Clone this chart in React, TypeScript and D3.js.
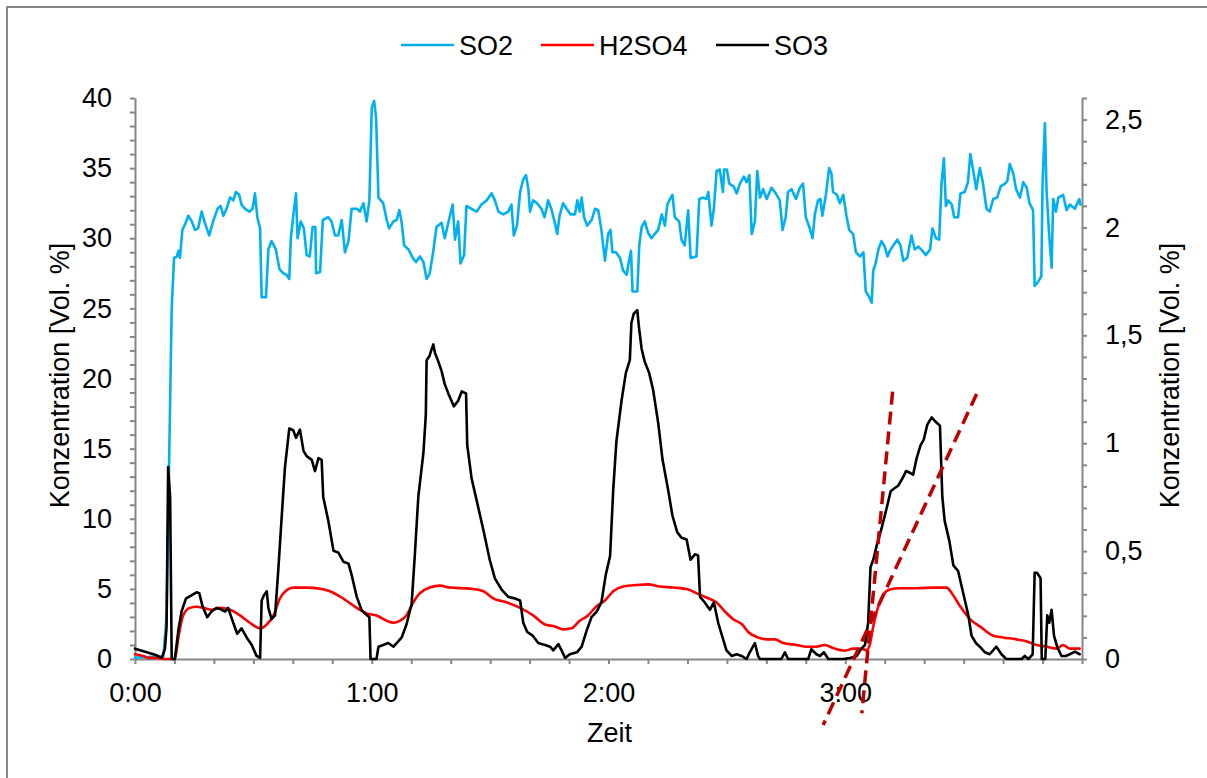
import { useEffect, useRef } from "react";
import * as d3 from "d3";

// Zeit in Minuten, SO2 in Vol.% (linke Achse)
const so2: [number, number][] = [
  [0, 0.1], [7.2, 0.2], [8.0, 3], [8.7, 15], [9.3, 25], [9.9, 28.6], [10.6, 28.7], [11.0, 29.1], [11.4, 28.6],
  [12.0, 30.6], [12.7, 31.0], [13.5, 31.6], [14.4, 31.2], [15.2, 30.6], [16.0, 30.7], [16.9, 31.9], [17.7, 31.1],
  [18.8, 30.2], [19.8, 31.2], [20.9, 32.1], [21.7, 32.3], [22.4, 31.6], [23.2, 32.1], [24.1, 32.9], [24.9, 32.7],
  [25.6, 33.3], [26.4, 33.1], [27.0, 32.4], [27.9, 32.1], [29.0, 31.9], [29.8, 32.1], [30.4, 33.2], [31.0, 31.5],
  [31.7, 30.7], [32.1, 25.8], [33.2, 25.8], [33.8, 29.2], [34.6, 29.8], [35.7, 29.2], [36.6, 27.8], [37.6, 27.5],
  [38.4, 27.4], [39.1, 27.1], [39.5, 30.0], [40.1, 31.6], [40.8, 33.2], [41.2, 30.0], [42.0, 31.2], [42.8, 30.7],
  [43.5, 28.8], [44.3, 28.7], [45.0, 30.8], [45.7, 30.8], [45.9, 27.5], [46.9, 27.6], [47.6, 31.3], [49.0, 31.5],
  [49.8, 31.2], [50.7, 30.2], [51.5, 30.2], [52.4, 31.3], [53.2, 29.0], [54.1, 29.8], [54.9, 32.1], [56.2, 32.1],
  [57.0, 31.9], [57.9, 32.5], [58.7, 31.2], [59.4, 32.7], [60.0, 39.3], [60.6, 39.8], [61.1, 38.6], [61.7, 32.9],
  [62.9, 32.5], [63.8, 31.3], [64.4, 30.7], [65.5, 31.2], [66.3, 31.3], [67.0, 32.0], [67.6, 31.1], [68.2, 29.5],
  [69.3, 29.2], [70.4, 28.6], [71.2, 28.3], [72.2, 28.7], [73.1, 28.3], [73.9, 27.1], [74.7, 27.5], [75.6, 29.1],
  [76.4, 30.8], [77.7, 31.1], [78.5, 30.0], [79.4, 31.1], [80.5, 32.4], [81.1, 29.9], [81.9, 31.2], [82.5, 28.2],
  [83.4, 28.8], [84.0, 32.3], [85.3, 32.1], [86.6, 31.9], [87.8, 32.4], [89.1, 32.7], [90.4, 33.2], [91.2, 32.7],
  [92.1, 31.9], [93.3, 31.7], [94.6, 31.9], [95.4, 32.4], [96.0, 30.2], [96.8, 30.9], [97.6, 33.3], [98.4, 34.2],
  [99.1, 34.5], [99.7, 33.5], [100.1, 31.9], [100.9, 32.7], [101.9, 32.5], [103.0, 32.1], [103.8, 31.5], [104.7, 32.7],
  [105.5, 32.1], [106.4, 31.1], [107.0, 30.3], [107.6, 31.6], [108.5, 32.5], [109.4, 32.1], [110.4, 31.7], [111.5, 31.7],
  [112.1, 32.7], [112.7, 31.9], [113.2, 32.9], [113.8, 31.5], [114.6, 30.9], [115.7, 31.3], [116.6, 32.1], [117.4, 32.0],
  [118.2, 30.6], [119.1, 28.4], [119.9, 30.3], [120.5, 30.6], [121.0, 29.0], [121.9, 29.0], [122.9, 28.6], [123.7, 27.7],
  [124.6, 27.4], [125.2, 28.4], [125.7, 29.1], [126.1, 26.2], [127.3, 26.2], [127.8, 29.5], [128.4, 30.8], [129.2, 31.2],
  [130.0, 30.4], [130.9, 30.0], [131.7, 30.3], [132.6, 30.6], [133.5, 31.7], [134.3, 30.9], [134.9, 32.4], [135.6, 32.8],
  [136.2, 33.1], [136.8, 31.5], [137.9, 31.2], [138.5, 29.9], [139.3, 29.5], [140.2, 32.0], [140.8, 28.6], [142.3, 28.7],
  [143.0, 32.8], [144.0, 32.9], [144.8, 32.8], [145.3, 33.3], [146.1, 30.9], [146.7, 32.1], [147.4, 34.8], [148.2, 34.9],
  [149.0, 33.3], [149.3, 34.9], [150.0, 34.9], [150.6, 33.9], [151.7, 33.7], [152.5, 33.2], [153.3, 33.9], [154.3, 34.4],
  [155.0, 34.0], [155.7, 34.5], [156.3, 30.3], [157.1, 31.2], [157.7, 34.8], [158.4, 32.9], [159.2, 33.5], [160.1, 32.8],
  [161.3, 33.6], [162.4, 33.2], [163.4, 32.7], [164.1, 30.6], [164.9, 31.5], [165.5, 33.3], [166.4, 33.5], [167.5, 32.8],
  [168.5, 33.6], [169.3, 33.9], [170.0, 31.5], [170.9, 30.8], [171.7, 30.0], [172.3, 31.7], [173.1, 32.7], [173.7, 32.8],
  [174.2, 31.6], [175.1, 33.1], [175.9, 35.0], [176.5, 34.6], [176.9, 33.3], [177.9, 33.1], [178.6, 32.5], [179.5, 33.1],
  [180.3, 31.6], [181.0, 30.6], [182.0, 30.3], [182.7, 29.0], [183.7, 28.7], [184.6, 29.0], [185.2, 26.2], [185.9, 25.9],
  [186.7, 25.4], [187.1, 27.7], [187.7, 28.2], [188.4, 29.2], [189.2, 29.8], [190.0, 29.4], [190.7, 28.7], [191.3, 29.1],
  [192.2, 29.5], [193.2, 29.9], [194.0, 29.5], [194.7, 28.4], [195.7, 28.6], [196.8, 30.2], [197.6, 29.2], [198.5, 29.4],
  [199.6, 29.1], [200.4, 28.8], [201.5, 29.2], [202.1, 30.7], [203.0, 30.0], [203.8, 29.9], [204.4, 33.9], [205.0, 35.7],
  [205.5, 32.3], [206.1, 32.7], [207.0, 32.4], [207.6, 31.5], [208.6, 31.5], [209.2, 33.2], [210.3, 33.3], [211.1, 34.0],
  [211.7, 36.0], [212.4, 34.9], [213.2, 33.5], [214.1, 35.0], [214.8, 34.1], [215.8, 32.1], [216.6, 31.9], [217.5, 32.8],
  [218.5, 32.9], [219.4, 33.7], [220.5, 33.9], [221.1, 34.1], [221.7, 35.3], [222.6, 34.6], [223.3, 33.5], [224.3, 32.9],
  [225.1, 34.0], [226.0, 33.6], [226.7, 32.5], [227.6, 32.0], [228.0, 26.6], [228.9, 26.9], [229.7, 27.3], [230.0, 33.9],
  [230.6, 38.2], [231.0, 33.5], [231.6, 30.6], [232.3, 27.9], [232.7, 32.8], [233.4, 31.9], [234.0, 32.9], [235.2, 33.1],
  [236.1, 32.0], [236.9, 32.4], [238.2, 32.1], [239.3, 32.8], [239.6, 32.4],
];

// H2SO4 in Vol.% (rechte Achse)
const h2so4: [number, number][] = [
  [0, 0.022], [2.1, 0.014], [3.4, 0.005], [5.5, 0.005], [8.0, 0], [10.1, 0], [11.0, 0.1], [12.2, 0.202], [13.9, 0.237],
  [15.6, 0.242], [17.3, 0.237], [19.4, 0.228], [21.5, 0.237], [24.1, 0.228], [26.6, 0.202], [29.1, 0.168], [31.7, 0.142],
  [33.4, 0.16], [35.1, 0.202], [36.7, 0.28], [38.4, 0.319], [40.1, 0.331], [43.5, 0.331], [46.9, 0.326], [49.4, 0.314],
  [52.8, 0.28], [56.2, 0.237], [58.7, 0.211], [61.2, 0.202], [63.8, 0.177], [65.5, 0.168], [67.1, 0.177], [68.8, 0.202],
  [70.5, 0.262], [72.2, 0.305], [74.7, 0.331], [77.3, 0.34], [79.8, 0.331], [84.9, 0.326], [88.3, 0.314], [90.9, 0.28],
  [94.3, 0.262], [97.6, 0.237], [100.9, 0.202], [103.9, 0.16], [106.4, 0.151], [108.5, 0.137], [110.6, 0.142],
  [112.7, 0.177], [114.8, 0.202], [117.0, 0.245], [119.1, 0.271], [121.2, 0.314], [123.7, 0.336], [127.1, 0.343],
  [130.0, 0.346], [133.0, 0.336], [136.4, 0.331], [140.2, 0.322], [142.7, 0.302], [144.8, 0.285], [147.4, 0.262],
  [149.5, 0.22], [151.8, 0.182], [153.9, 0.16], [155.4, 0.125], [157.9, 0.1], [160.1, 0.091], [162.2, 0.091],
  [164.3, 0.074], [167.7, 0.065], [170.2, 0.057], [172.7, 0.057], [174.8, 0.065], [176.9, 0.051], [179.9, 0.039],
  [182.0, 0.048], [184.1, 0.048], [185.4, 0.04], [186.2, 0.065], [187.1, 0.151], [188.4, 0.245], [189.6, 0.297],
  [191.3, 0.322], [193.8, 0.328], [198.1, 0.328], [202.3, 0.331], [205.7, 0.331], [207.0, 0.305], [209.1, 0.245],
  [211.6, 0.185], [214.1, 0.151], [217.5, 0.108], [220.0, 0.1], [223.4, 0.091], [225.9, 0.082], [228.5, 0.065],
  [231.0, 0.057], [233.6, 0.048], [235.2, 0.065], [236.9, 0.048], [239.4, 0.048],
];

// SO3 in Vol.% (rechte Achse)
const so3: [number, number][] = [
  [0, 0.048], [3.0, 0.031], [5.5, 0.017], [6.8, 0.005], [7.6, 0.048], [8.0, 0.15], [8.4, 0.89], [8.9, 0.75], [9.3, 0],
  [10.1, 0], [11.0, 0.134], [11.8, 0.22], [12.9, 0.28], [14.4, 0.296], [15.6, 0.309], [16.3, 0.305], [17.1, 0.245],
  [18.3, 0.194], [19.4, 0.22], [20.7, 0.237], [22.0, 0.228], [22.8, 0.22], [23.6, 0.237], [24.9, 0.168], [25.9, 0.117],
  [27.0, 0.142], [28.3, 0.1], [29.6, 0.065], [30.8, 0.014], [31.7, 0.005], [32.1, 0.271], [32.7, 0.296], [33.4, 0.314],
  [33.8, 0.237], [34.6, 0.185], [35.5, 0.202], [36.3, 0.408], [37.2, 0.665], [38.0, 0.888], [39.1, 1.068], [40.1, 1.06],
  [40.8, 1.025], [41.8, 1.063], [42.7, 0.965], [43.5, 0.94], [44.8, 0.923], [45.6, 0.871], [46.5, 0.931], [47.3, 0.923],
  [47.7, 0.751], [49.0, 0.64], [50.3, 0.502], [51.5, 0.494], [52.8, 0.451], [54.1, 0.442], [54.9, 0.39], [56.2, 0.288],
  [57.4, 0.228], [58.3, 0.211], [59.4, 0.194], [59.7, 0], [61.2, 0], [61.7, 0.057], [62.9, 0.065], [64.2, 0.074],
  [65.5, 0.057], [66.3, 0.074], [67.6, 0.1], [68.8, 0.16], [70.1, 0.254], [70.9, 0.477], [71.8, 0.751], [73.1, 0.957],
  [73.7, 1.13], [73.9, 1.385], [74.6, 1.403], [75.2, 1.437], [75.6, 1.458], [76.0, 1.42], [76.9, 1.377], [77.7, 1.334],
  [78.5, 1.274], [79.4, 1.231], [80.8, 1.171], [81.9, 1.197], [82.8, 1.24], [83.9, 1.231], [84.2, 0.991], [85.3, 0.837],
  [86.6, 0.734], [88.3, 0.597], [89.9, 0.46], [91.2, 0.374], [92.9, 0.322], [94.6, 0.288], [96.3, 0.28], [97.6, 0.271],
  [98.4, 0.168], [99.4, 0.125], [100.8, 0.108], [102.2, 0.074], [103.9, 0.065], [105.2, 0.057], [106.0, 0.04],
  [107.3, 0.069], [108.1, 0.04], [109.0, 0.005], [110.2, 0.022], [112.0, 0.031], [113.2, 0.057], [114.5, 0.134],
  [115.7, 0.194], [117.0, 0.22], [118.2, 0.262], [119.3, 0.39], [120.4, 0.477], [121.2, 0.785], [122.0, 1.008],
  [123.3, 1.197], [124.4, 1.326], [125.4, 1.385], [125.8, 1.557], [126.4, 1.6], [127.3, 1.617], [127.7, 1.54],
  [128.4, 1.437], [129.2, 1.377], [130.3, 1.326], [131.3, 1.248], [132.6, 1.094], [133.7, 0.923], [135.1, 0.785],
  [136.2, 0.665], [137.4, 0.588], [138.5, 0.562], [139.8, 0.554], [140.8, 0.46], [141.9, 0.485], [142.7, 0.48],
  [143.2, 0.288], [144.4, 0.262], [145.7, 0.228], [146.7, 0.262], [147.8, 0.168], [148.9, 0.1], [149.9, 0.04],
  [151.2, 0.014], [152.5, 0.022], [153.7, 0.014], [155.0, 0], [155.8, 0.031], [157.1, 0.074], [157.9, 0.014],
  [158.4, 0], [163.8, 0], [164.7, 0.031], [165.5, 0], [170.6, 0], [171.4, 0.045], [172.7, 0.022], [173.6, 0.014],
  [174.6, 0.031], [175.7, 0], [179.5, 0], [181.2, 0.005], [182.9, 0.014], [184.1, 0.048], [185.0, 0.065], [185.8, 0.168],
  [186.4, 0.425], [187.1, 0.46], [188.0, 0.528], [189.2, 0.605], [190.5, 0.7], [191.5, 0.777], [192.3, 0.789],
  [193.4, 0.803], [194.5, 0.837], [195.4, 0.871], [196.4, 0.863], [197.2, 0.854], [198.1, 0.931], [199.1, 0.991],
  [199.9, 1.017], [200.8, 1.086], [201.9, 1.12], [202.7, 1.103], [204.0, 1.081], [204.6, 0.751], [205.2, 0.64],
  [206.4, 0.545], [207.4, 0.434], [208.6, 0.408], [209.9, 0.305], [211.2, 0.202], [212.0, 0.108], [213.1, 0.074],
  [214.1, 0.057], [215.4, 0.031], [216.6, 0.022], [218.3, 0.057], [219.6, 0.022], [220.8, 0], [224.7, 0], [225.5, 0.014],
  [226.4, 0], [227.5, 0.022], [228.0, 0.4], [228.6, 0.4], [229.5, 0.374], [229.8, 0], [230.7, 0], [231.2, 0.202],
  [231.7, 0.168], [232.3, 0.228], [232.9, 0.108], [233.7, 0.057], [234.8, 0.014], [235.9, 0.014], [236.9, 0.022],
  [238.2, 0.034], [239.4, 0.022],
];

// gestrichelte Tangenten (Zeit, linke Achse), von oben nach unten
const tangents: [number, number, number, number][] = [
  [192.0, 19.06, 184.2, -3.87],
  [213.3, 18.9, 174.4, -4.7],
];

const seriesNames = ["SO2", "H2SO4", "SO3"];
const seriesColors = ["#00B0F0", "#FF0000", "#000000"];
const xLabelTicks = [0, 60, 120, 180];
const xTickLabels = ["0:00", "1:00", "2:00", "3:00"];
const leftMajor = [0, 5, 10, 15, 20, 25, 30, 35, 40];
const rightMajor = [0, 0.5, 1, 1.5, 2, 2.5];
const rightTickLabels = ["0", "0,5", "1", "1,5", "2", "2,5"];

const FONT = "'Liberation Sans', Arial, sans-serif";
const AXIS = "#868686";

export default function App() {
  const ref = useRef<SVGSVGElement>(null);

  useEffect(() => {
    if (!ref.current) return;
    const svg = d3.select(ref.current);
    svg.selectAll("*").remove();

    const W = 1207;
    const H = 778;
    const m = { top: 98, right: 125, bottom: 119, left: 135 };
    const w = W - m.left - m.right;
    const h = H - m.top - m.bottom;

    // Rahmen
    svg.append("rect")
      .attr("x", 7).attr("y", 7)
      .attr("width", W + 20).attr("height", H + 20)
      .attr("fill", "#fff")
      .attr("stroke", "#898989")
      .attr("stroke-width", 2);

    const g = svg.append("g").attr("transform", `translate(${m.left},${m.top})`);

    const x = d3.scaleLinear().domain([0, 240]).range([0, w]);
    const yL = d3.scaleLinear().domain([0, 40]).range([h, 0]);
    const yR = d3.scaleLinear().domain([0, 2.6]).range([h, 0]);

    const styleAxis = (sel: any) => {
      sel.selectAll("path, line").attr("stroke", AXIS).attr("stroke-width", 2);
      sel.selectAll("text")
        .attr("fill", "#000")
        .style("font-family", FONT)
        .style("font-size", "27px");
    };

    // X-Achse
    const xAxis = g.append("g")
      .attr("transform", `translate(0,${h})`)
      .call(
        d3.axisBottom(x)
          .tickValues(d3.range(0, 241, 10))
          .tickSize(5)
          .tickSizeOuter(0)
          .tickPadding(19)
          .tickFormat((d: any) => {
            const i = xLabelTicks.indexOf(+d);
            return i >= 0 ? xTickLabels[i] : "";
          })
      );
    styleAxis(xAxis);

    // linke Achse
    const leftAxis = g.append("g")
      .call(
        d3.axisLeft(yL)
          .tickValues(d3.range(0, 41, 1))
          .tickSize(5)
          .tickSizeOuter(0)
          .tickPadding(18)
          .tickFormat((d: any) => (leftMajor.includes(+d) ? String(d) : ""))
      );
    styleAxis(leftAxis);

    // rechte Achse
    const rightAxis = g.append("g")
      .attr("transform", `translate(${w},0)`)
      .call(
        d3.axisRight(yR)
          .tickValues(d3.range(0, 27, 1).map((i) => i / 10))
          .tickSize(5)
          .tickSizeOuter(0)
          .tickPadding(18)
          .tickFormat((d: any) => {
            const i = rightMajor.findIndex((v) => Math.abs(v - +d) < 1e-6);
            return i >= 0 ? rightTickLabels[i] : "";
          })
      );
    styleAxis(rightAxis);

    // Achsentitel
    const title = (sel: any) =>
      sel.style("font-family", FONT).style("font-size", "27px").attr("fill", "#000").attr("text-anchor", "middle");

    g.append("text")
      .attr("x", w / 2 + 1).attr("y", h + 83)
      .call(title)
      .text("Zeit");

    svg.append("text")
      .attr("transform", `translate(69,${m.top + h / 2 - 3}) rotate(-90)`)
      .call(title)
      .text("Konzentration [Vol. %]");

    svg.append("text")
      .attr("transform", `translate(1179,${m.top + h / 2 - 3}) rotate(-90)`)
      .call(title)
      .text("Konzentration [Vol. %]");

    // Linien
    const lineL = d3.line<[number, number]>().x((d) => x(d[0])).y((d) => yL(d[1]));
    const lineR = d3.line<[number, number]>().x((d) => x(d[0])).y((d) => yR(d[1]));
    const lineRSmooth = d3.line<[number, number]>()
      .x((d) => x(d[0])).y((d) => yR(d[1]))
      .curve(d3.curveMonotoneX);

    const paths: [string, string][] = [
      [lineL(so2) as string, seriesColors[0]],
      [lineRSmooth(h2so4) as string, seriesColors[1]],
      [lineR(so3) as string, seriesColors[2]],
    ];
    paths.forEach(([d, c]) => {
      g.append("path")
        .attr("d", d)
        .attr("fill", "none")
        .attr("stroke", c)
        .attr("stroke-width", 2.6)
        .attr("stroke-linejoin", "round")
        .attr("stroke-linecap", "round");
    });

    // Tangenten
    tangents.forEach(([t1, v1, t2, v2]) => {
      g.append("line")
        .attr("x1", x(t1)).attr("y1", yL(v1))
        .attr("x2", x(t2)).attr("y2", yL(v2))
        .attr("stroke", "#C00000")
        .attr("stroke-width", 3.5)
        .attr("stroke-dasharray", "13,7");
    });

    // Legende
    const legendX = [401, 541, 716];
    const legend = svg.append("g");
    seriesNames.forEach((name, i) => {
      legend.append("line")
        .attr("x1", legendX[i]).attr("x2", legendX[i] + 53)
        .attr("y1", 45).attr("y2", 45)
        .attr("stroke", seriesColors[i])
        .attr("stroke-width", 2.6);
      legend.append("text")
        .attr("x", legendX[i] + 58).attr("y", 55)
        .style("font-family", FONT)
        .style("font-size", "27px")
        .attr("fill", "#000")
        .text(name);
    });
  }, []);

  return (
    <svg
      ref={ref}
      width={1207}
      height={778}
      style={{ position: "absolute", left: 0, top: 0, background: "#fff" }}
    />
  );
}
